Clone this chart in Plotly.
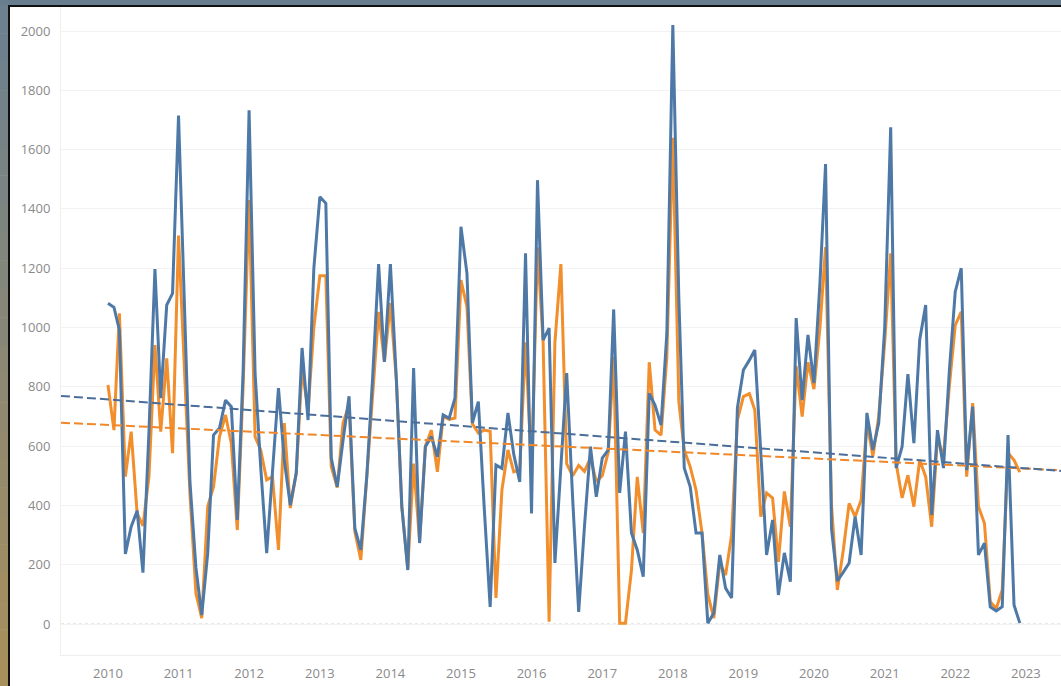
import numpy as np
import pandas as pd
import plotly.graph_objects as go

# ---------------- data (monthly, Jan 2010 - Dec 2022) ----------------
start_month = "2010-01-01"
n_months = 156

blue_values = [
    1082, 1068, 992, 236, 328, 382, 173, 650, 1197, 762, 1076, 1115,      # 2010
    1715, 1100, 480, 190, 30, 239, 637, 661, 755, 733, 351, 850,          # 2011
    1733, 846, 530, 239, 500, 796, 553, 401, 509, 931, 688, 1200,         # 2012
    1441, 1419, 560, 463, 620, 768, 323, 250, 500, 830, 1214, 884,        # 2013
    1214, 823, 396, 182, 863, 273, 598, 632, 564, 705, 694, 762,          # 2014
    1340, 1183, 678, 750, 396, 58, 536, 525, 712, 573, 479, 1250,         # 2015
    373, 1497, 958, 998, 206, 520, 846, 420, 41, 330, 598, 429,           # 2016
    560, 587, 1061, 442, 649, 307, 250, 160, 778, 738, 671, 980,          # 2017
    2020, 1100, 526, 463, 307, 307, 3, 37, 233, 121, 88, 729,             # 2018
    857, 890, 924, 580, 233, 351, 98, 240, 143, 1032, 755, 975,           # 2019
    813, 1150, 1551, 320, 145, 175, 206, 362, 233, 712, 587, 678,         # 2020
    1000, 1675, 526, 598, 843, 610, 958, 1076, 368, 654, 526, 850,        # 2021
    1121, 1200, 519, 733, 233, 273, 58, 44, 58, 637, 64, 3,               # 2022
]

orange_values = [
    806, 654, 1048, 497, 649, 373, 331, 497, 941, 649, 896, 576,          # 2010
    1310, 870, 440, 104, 20, 396, 463, 632, 705, 609, 317, 800,           # 2011
    1430, 632, 587, 486, 497, 250, 678, 391, 509, 860, 720, 1000,         # 2012
    1175, 1175, 531, 460, 678, 740, 312, 216, 500, 789, 1053, 884,        # 2013
    1082, 820, 396, 186, 541, 280, 600, 654, 513, 700, 690, 695,          # 2014
    1160, 1070, 675, 644, 654, 650, 88, 453, 587, 513, 520, 950,          # 2015
    520, 1270, 950, 8, 950, 1214, 540, 500, 535, 515, 560, 480,           # 2016
    500, 580, 900, 3, 3, 182, 496, 307, 883, 654, 637, 900,               # 2017
    1640, 750, 587, 530, 452, 307, 100, 20, 206, 165, 300, 688,           # 2018
    767, 777, 722, 362, 442, 425, 210, 447, 328, 870, 700, 883,           # 2019
    792, 1000, 1271, 400, 115, 250, 407, 362, 418, 680, 566, 700,         # 2020
    950, 1250, 543, 425, 502, 396, 553, 497, 328, 627, 564, 800,          # 2021
    1008, 1053, 497, 745, 396, 340, 75, 52, 115, 577, 553, 512,           # 2022
]

year_ticks = list(range(2010, 2024))
y_ticks = list(range(0, 2001, 200))

x_range = ["2009-05-03", "2023-07-02"]
y_range = [-104.5, 2081]

BLUE = "#4e79a7"
ORANGE = "#f28e2b"
BLUE_TREND = "#4a6e99"
ORANGE_TREND = "#f0882a"

months = pd.date_range(start_month, periods=n_months, freq="MS")

# ---------------- trend lines (least squares over time) ----------------
def trend(values):
    t = (months - pd.Timestamp("1970-01-01")).days.values.astype(float)
    a, b = np.polyfit(t, np.array(values, dtype=float), 1)
    xr = pd.to_datetime(x_range)
    tr = (xr - pd.Timestamp("1970-01-01")).days.values.astype(float)
    return xr, a * tr + b

fig = go.Figure()

xb, yb = trend(blue_values)
xo, yo = trend(orange_values)

fig.add_trace(go.Scatter(x=months, y=orange_values, mode="lines", name="Series 2",
                         line=dict(color=ORANGE, width=3)))
fig.add_trace(go.Scatter(x=months, y=blue_values, mode="lines", name="Series 1",
                         line=dict(color=BLUE, width=3)))
fig.add_trace(go.Scatter(x=xo, y=yo, mode="lines", name="Trend 2",
                         line=dict(color=ORANGE_TREND, width=2, dash="9px,4px")))
fig.add_trace(go.Scatter(x=xb, y=yb, mode="lines", name="Trend 1",
                         line=dict(color=BLUE_TREND, width=2, dash="9px,4px")))

# zero reference line (dotted)
fig.add_shape(type="line", xref="paper", x0=0, x1=1, yref="y", y0=0, y1=0,
              line=dict(color="#d0d0d0", width=1, dash="dot"), layer="below")

# ---------------- screenshot frame (dark border top/left) ----------------
W, H = 1061, 686
L, T, B = 61, 7, 31
PW, PH = W - L, H - T - B

def px_x(px):
    return (px - L) / PW

def px_y(py):
    return (H - B - py) / PH

# top band
fig.add_shape(type="rect", xref="paper", yref="paper",
              x0=px_x(0), x1=px_x(W), y0=px_y(5), y1=px_y(0),
              fillcolor="#687d8e", line=dict(width=0), layer="above")
fig.add_shape(type="rect", xref="paper", yref="paper",
              x0=px_x(8), x1=px_x(W), y0=px_y(7), y1=px_y(5),
              fillcolor="#111111", line=dict(width=0), layer="above")
# left band with stepped gradient (slate -> tan)
top_c = np.array([0x6c, 0x80, 0x90])
bot_c = np.array([0xa8, 0x90, 0x5c])
steps = 24
for i in range(steps):
    f = i / (steps - 1)
    c = (top_c * (1 - f) + bot_c * f).astype(int)
    y0p = 5 + (H - 5) * i / steps
    y1p = 5 + (H - 5) * (i + 1) / steps
    fig.add_shape(type="rect", xref="paper", yref="paper",
                  x0=px_x(0), x1=px_x(8), y0=px_y(y1p + 0.5), y1=px_y(y0p),
                  fillcolor="rgb(%d,%d,%d)" % tuple(c), line=dict(width=0), layer="above")
fig.add_shape(type="rect", xref="paper", yref="paper",
              x0=px_x(8), x1=px_x(10), y0=px_y(H), y1=px_y(5),
              fillcolor="#111111", line=dict(width=0), layer="above")

tick_font = dict(family="Open Sans, Lato, sans-serif", size=13, color="#8a8a8a")

fig.update_layout(
    width=W, height=H,
    margin=dict(l=L, r=0, t=T, b=B, pad=0),
    paper_bgcolor="white", plot_bgcolor="white",
    showlegend=False,
    xaxis=dict(
        type="date", range=x_range,
        tickvals=[pd.Timestamp(f"{y}-01-01") for y in year_ticks],
        ticktext=[str(y) for y in year_ticks],
        showgrid=False, zeroline=False,
        showline=True, linecolor="#eeeeee", linewidth=1, mirror=False,
        ticks="", tickfont=tick_font, ticklabelstandoff=6,
    ),
    yaxis=dict(
        range=y_range,
        tickvals=y_ticks, ticktext=[str(v) for v in y_ticks],
        showgrid=True, gridcolor="#f2f2f2", gridwidth=1,
        zeroline=False,
        showline=True, linecolor="#eeeeee", linewidth=1,
        ticks="", tickfont=tick_font, ticklabelstandoff=7,
    ),
)

fig.write_html(
    "out.html",
    config={"displayModeBar": False},
    post_script="document.body.style.margin='0';document.body.style.overflow='hidden';",
)
